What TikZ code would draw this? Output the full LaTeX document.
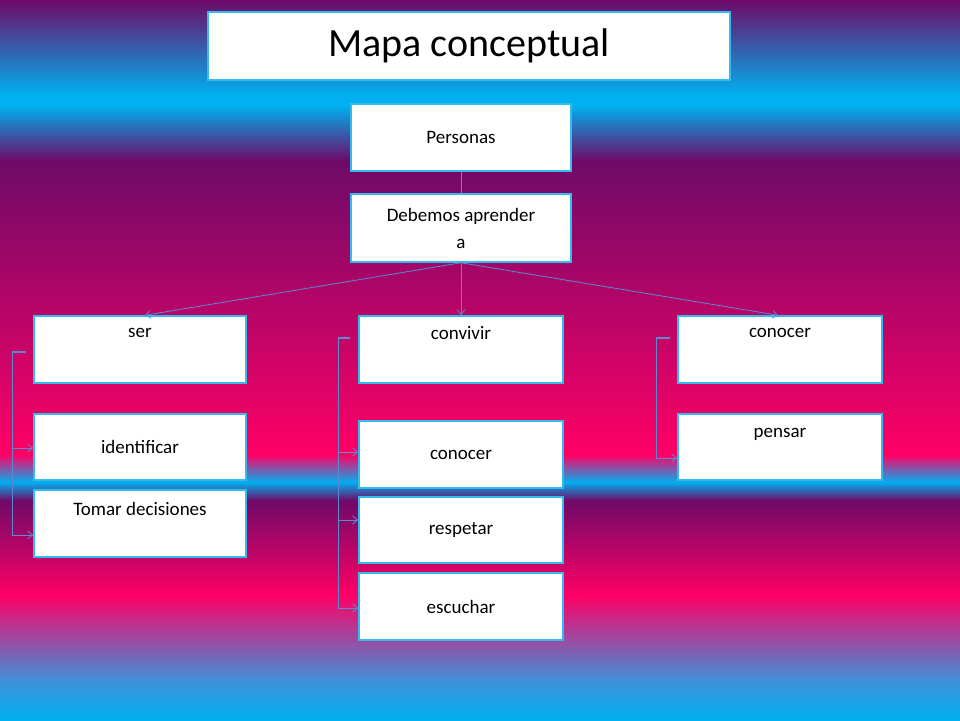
\documentclass[tikz,border=0pt]{standalone}
\usepackage{fontspec}
\setmainfont{Carlito}
\usetikzlibrary{arrows.meta}
\definecolor{cy}{HTML}{00B0F0}
\definecolor{pu}{HTML}{6E0A68}
\definecolor{pk}{HTML}{FF0066}
\definecolor{bl}{HTML}{4090D8}
\definecolor{bd}{HTML}{33BBEE}
\definecolor{ln}{HTML}{5A8ACF}
\begin{document}
\begin{tikzpicture}[x=1pt,y=-1pt,
  box/.style={draw=bd,line width=1.5pt,fill=white,font=\fontsize{19}{23}\selectfont,align=center,inner sep=0pt},
  con/.style={draw=ln,line width=0.8pt},
  arr/.style={con,-{Straight Barb[length=5pt,width=8pt]}},
  tick/.style={draw=ln,line width=2.5pt}]
\useasboundingbox (0,0) rectangle (960,720);
\shade[top color=pu,bottom color=cy,shading angle=0] (0,0) rectangle (960,95.5);
\fill[cy] (0,95) rectangle (960,106);
\shade[top color=cy,bottom color=pu] (0,105.5) rectangle (960,160.5);
\shade[top color=pu,bottom color=pk] (0,160) rectangle (960,455.5);
\shade[top color=pk,bottom color=cy] (0,455) rectangle (960,482.5);
\shade[top color=cy,bottom color=pu] (0,482) rectangle (960,500.5);
\shade[top color=pu,bottom color=pk] (0,500) rectangle (960,595.5);
\shade[top color=pk,bottom color=bl] (0,595) rectangle (960,680.5);
\shade[top color=bl,bottom color=cy] (0,680) rectangle (960,720);
\node[box,minimum width=522pt,minimum height=68pt,font=\fontsize{40}{44}\selectfont] (title) at (469,46) {Mapa conceptual};
\node[box,minimum width=220pt,minimum height=67pt] (per) at (461,137.5) {Personas};
\node[box,minimum width=220pt,minimum height=68pt] (deb) at (461,228) {Debemos aprender\\[4pt]a};
\node[box,minimum width=212pt,minimum height=67pt] (ser) at (140,349.5) {ser\\[10pt]};
\node[box,minimum width=204pt,minimum height=67pt] (conv) at (461,349.5) {convivir\\[10pt]};
\node[box,minimum width=204pt,minimum height=67pt] (cono) at (780,349.5) {conocer\\[10pt]};
\node[box,minimum width=212pt,minimum height=66pt] (ide) at (140,447) {identificar};
\node[box,minimum width=212pt,minimum height=67pt] (tom) at (140,523.5) {Tomar decisiones\\[6pt]};
\node[box,minimum width=204pt,minimum height=67pt] (con2) at (461,454.5) {conocer};
\node[box,minimum width=204pt,minimum height=66pt] (res) at (461,530) {respetar};
\node[box,minimum width=204pt,minimum height=67pt] (esc) at (461,606.5) {escuchar};
\node[box,minimum width=204pt,minimum height=66pt] (pen) at (780,447) {pensar\\[6pt]};
\draw[con] (per) -- (deb);
\draw[arr] (deb.south) -- ([xshift=5pt]ser.north);
\draw[arr] (deb.south) -- (conv.north);
\draw[arr] (deb.south) -- ([xshift=-2pt]cono.north);
\coordinate (s0) at (12,352);
\coordinate (c0) at (338,338);
\coordinate (k0) at (656,338);
\draw[tick] (s0) -- ++(14,0);
\draw[tick] (c0) -- ++(12,0);
\draw[tick] (k0) -- ++(14,0);
\draw[con] (s0) |- (tom.west|-0,535);
\draw[arr] (s0) |- (tom.west|-0,535);
\draw[arr] (s0|-0,448) -- (ide.west|-0,448);
\draw[arr] (c0) |- (esc.west|-0,608);
\draw[arr] (c0|-0,452) -- (con2.west|-0,452);
\draw[arr] (c0|-0,520) -- (res.west|-0,520);
\draw[arr] (k0) |- (pen.west|-0,458);
\end{tikzpicture}
\end{document}
